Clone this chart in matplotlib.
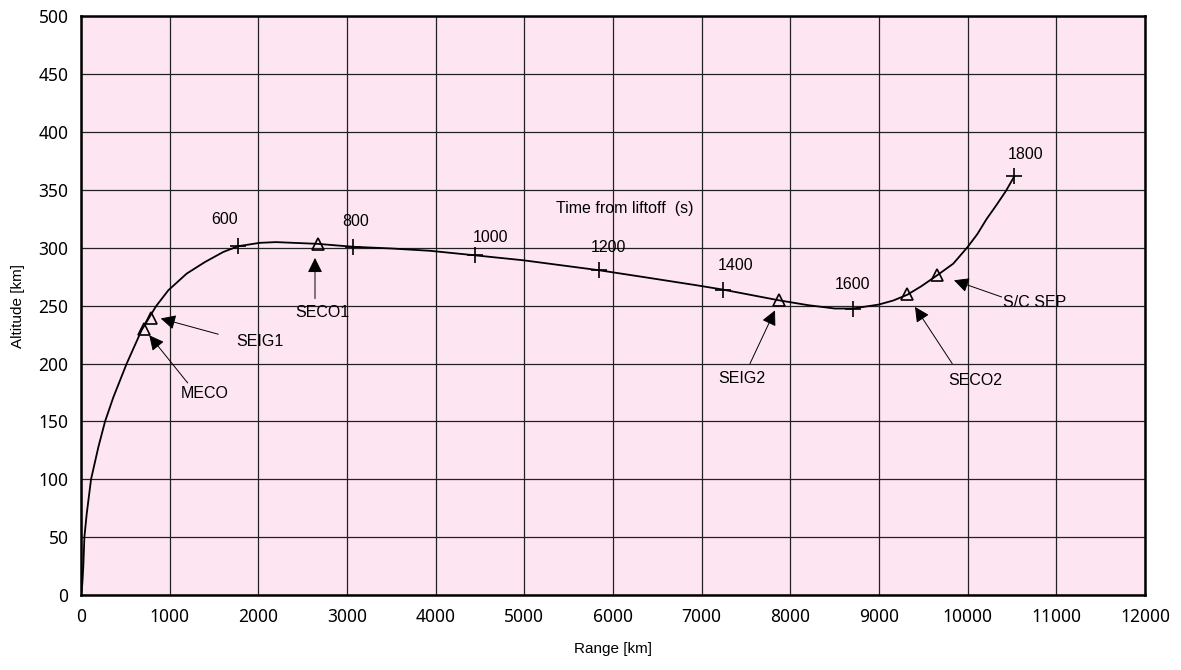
import matplotlib
matplotlib.use('Agg')
import matplotlib.pyplot as plt

# trajectory: ground range [km] vs altitude [km]
range_km = [0, 15, 26, 38, 64, 113, 196, 271, 365, 515, 684, 846, 985, 1192,
            1398, 1605, 1774, 2019, 2200, 2669, 3064, 3500, 3936, 4443, 4988,
            5842, 6380, 6943, 7237, 7872, 8200, 8503, 8703, 8996, 9160, 9319, 9480,
            9650, 9838, 10000, 10110, 10214, 10320, 10430, 10526]
alt_km = [0, 10, 25, 50, 70, 100, 128, 150, 171, 200, 229, 249.6, 263.4, 277.8,
          287.8, 296.5, 301.5, 304.4, 305, 303.5, 301, 299.5, 297.5, 293.6, 289.3,
          280.7, 274.4, 267.7, 264, 254.7, 250.5, 247.6, 247.6, 251, 254.5, 259.5, 267,
          276, 286.4, 300.8, 312, 325, 336.5, 349, 361.8]

# time from liftoff marks
time_s = [600, 800, 1000, 1200, 1400, 1600, 1800]
time_range = [1774, 3064, 4443, 5842, 7237, 8703, 10526]
time_alt = [301.5, 301, 293.6, 280.7, 264, 247.6, 361.8]

# events
event_names = ['MECO', 'SEIG1', 'SECO1', 'SEIG2', 'SECO2', 'S/C SEP']
event_range = [710, 786, 2669, 7872, 9319, 9650]
event_alt = [230.3, 239, 303.1, 254.7, 260, 276.3]

# layout of labels (offsets in points) and event call-outs (data coords)
time_offsets = [(-10, 19), (2, 18.5), (11, 13), (7, 16.5), (9, 17.5), (0, 17.5), (8, 16)]
event_text = [(1398, 174.4), (2019, 218.7), (2726, 244.6), (7451, 187.1), (10082, 185), (10759, 252.4)]
event_tail = [(1203, 183.3), (1548, 225.4), (2639, 256.2), (7545, 200), (9826, 200), (10383, 257.6)]
event_tip = [(770, 224.5), (899, 239), (2639, 291.3), (7827, 246), (9406, 249), (9846, 272)]

TXT = ['Liberation Sans', 'DejaVu Sans']

fig = plt.figure(figsize=(11.81, 6.70), dpi=100)
ax = fig.add_axes([0.0686, 0.1119, 0.9009, 0.8635])
ax.set_facecolor('#fde5f1')

ax.plot(range_km, alt_km, color='black', lw=1.3, zorder=3)
ax.plot(time_range, time_alt, ls='none', marker='+', ms=11, mew=1.2, color='black', zorder=4)
ax.plot(event_range, event_alt, ls='none', marker='^', ms=9, mew=1.2,
        mfc='none', mec='black', zorder=4)

for t, x, y, off in zip(time_s, time_range, time_alt, time_offsets):
    ax.annotate(str(t), (x, y), xytext=off, textcoords='offset points',
                ha='center', va='center', fontsize=11.5, family=TXT, zorder=5)

for name, txt, tail, tip in zip(event_names, event_text, event_tail, event_tip):
    ax.annotate('', xy=tip, xytext=tail,
                arrowprops=dict(arrowstyle='-|>,head_length=0.9,head_width=0.45',
                                mutation_scale=10, color='black', lw=0.7,
                                shrinkA=0, shrinkB=0), zorder=5)
    ax.text(txt[0], txt[1], name, ha='center', va='center', fontsize=11.5,
            family=TXT, zorder=5)

ax.text(6128, 334, 'Time from liftoff  (s)', ha='center', va='center',
        fontsize=11.5, family=TXT, zorder=5)

ax.set_xlim(0, 12000)
ax.set_ylim(0, 500)
ax.set_xticks(range(0, 12001, 1000))
ax.set_yticks(range(0, 501, 50))
ax.grid(True, color='#222222', lw=0.9)
ax.set_axisbelow(True)
ax.tick_params(length=0, pad=9, labelsize=12.5)
for lab in ax.get_xticklabels() + ax.get_yticklabels():
    lab.set_family(['Noto Sans', 'DejaVu Sans'])
for s in ax.spines.values():
    s.set_linewidth(1.8)
    s.set_color('black')

ax.set_xlabel('Range [km]', fontsize=11, family=TXT, labelpad=12)
ax.set_ylabel('Altitude [km]', fontsize=11, family=TXT, labelpad=10)

fig.savefig('out.png', dpi=100)
plt.close(fig)
